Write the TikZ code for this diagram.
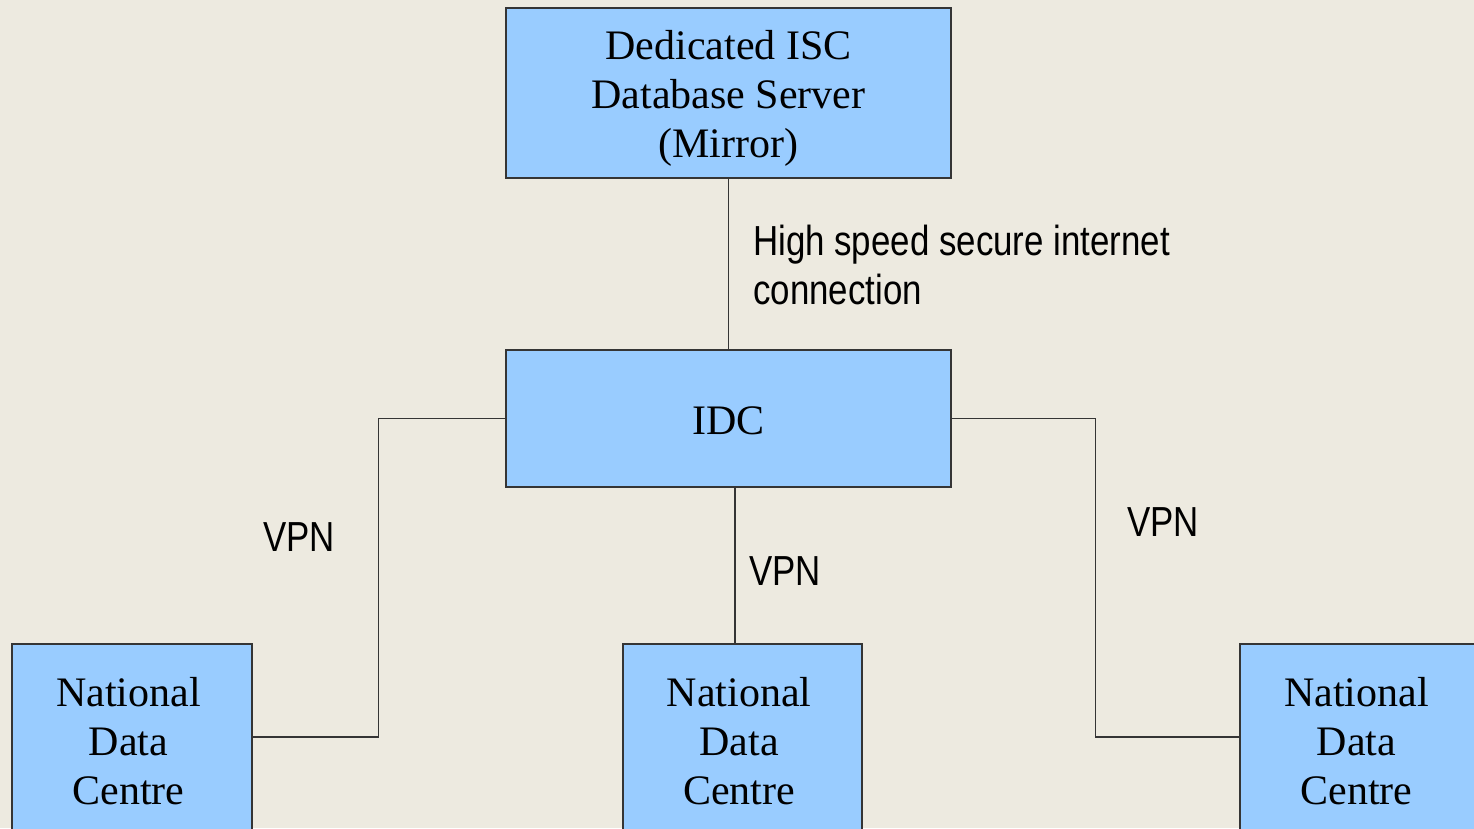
\documentclass[tikz,border=0pt]{standalone}
\usepackage{fontspec}
\setmainfont{Liberation Serif}
\newfontfamily\labfont[FakeStretch=0.83]{Liberation Sans}
\usetikzlibrary{calc}
\definecolor{bgc}{HTML}{EDEAE0}
\definecolor{boxfill}{HTML}{99CCFF}
\definecolor{edgec}{HTML}{353535}
\tikzset{
  box/.style={draw=edgec, line width=1.1pt, fill=boxfill, minimum width=#1, inner sep=0pt},
  boxtext/.style={font=\fontsize{42}{49}\selectfont, align=center, inner sep=0pt},
  conn/.style={draw=edgec, line width=1.2pt},
  lab/.style={font=\labfont\fontsize{42}{49}\selectfont, inner sep=0pt, align=left}
}
\begin{document}
\begin{tikzpicture}[x=1pt,y=-1pt]
\useasboundingbox (0,0) rectangle (1474,828);
\fill[bgc] (0,0) rectangle (1474,828);
\clip (0,0) rectangle (1474,828);
\node[box=445pt, minimum height=170pt,
  label={[boxtext, yshift=-5pt]center:{Dedicated ISC\\Database Server\\(Mirror)}}] (top) at (728.5,93) {};
\node[box=445pt, minimum height=137pt,
  label={[boxtext, yshift=-2pt]center:IDC}] (idc) at (728.5,418.5) {};
\node[box=240pt, minimum height=186pt,
  label={[boxtext, xshift=-3.5pt, yshift=-4pt]center:{National\\Data\\Centre}}] (ndcL) at (132,737) {};
\node[box=239pt, minimum height=186pt,
  label={[boxtext, xshift=-3.5pt, yshift=-4pt]center:{National\\Data\\Centre}}] (ndcM) at (742.5,737) {};
\node[box=240pt, minimum height=186pt,
  label={[boxtext, xshift=-3.5pt, yshift=-4pt]center:{National\\Data\\Centre}}] (ndcR) at (1360,737) {};
\draw[conn] (top.south) -- (idc.north);
\draw[conn] (idc.west) -- ++(-127,0) |- (ndcL.east);
\draw[conn] (idc.east) -- ++(144,0) |- (ndcR.west);
\draw[conn] ([xshift=6.5pt]idc.south) -- ([xshift=-7.5pt]ndcM.north);
\node[lab, anchor=north west] (hs) at (753,225) {High speed secure internet\\connection};
\node[lab, anchor=base west] (v1) at (263,551) {VPN};
\node[lab, anchor=base west] (v2) at (749,585) {VPN};
\node[lab, anchor=base west] (v3) at (1127,536) {VPN};
\end{tikzpicture}
\end{document}
